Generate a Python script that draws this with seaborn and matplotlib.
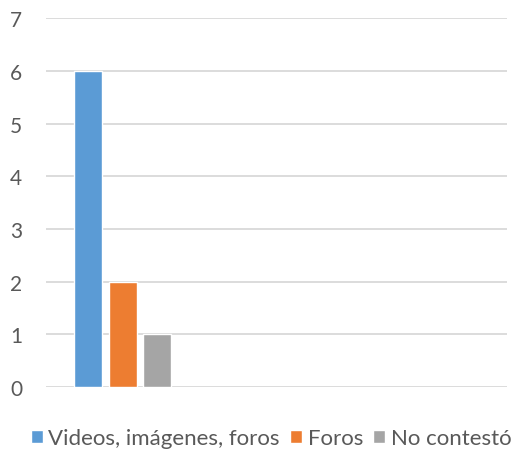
import matplotlib
matplotlib.use("Agg")
import matplotlib.pyplot as plt
import seaborn as sns
import pandas as pd

categories = ["Grupo"]
series = ["Videos, imágenes, foros", "Foros", "No contestó"]
values = [6, 2, 1]
colors = ["#5B9BD5", "#ED7D31", "#A5A5A5"]
yticks = [0, 1, 2, 3, 4, 5, 6, 7]

df = pd.DataFrame({"cat": categories * len(series), "serie": series, "valor": values})

sns.set_theme(style="white")
plt.rcParams['font.family'] = ['Lato', 'DejaVu Sans']

fig = plt.figure(figsize=(5.17, 4.56), dpi=100)
ax = fig.add_axes([0.089, 0.149, 0.892, 0.809])
sns.barplot(data=df, x="cat", y="valor", hue="serie", hue_order=series,
            palette=colors, width=0.673, gap=0.19, ax=ax, legend=True,
            saturation=1, errorbar=None)
ax.set_xlim(-0.5, 2.5)
ax.set_ylim(0, 7)
ax.set_yticks(yticks)
ax.set_yticklabels([str(t) for t in yticks])
ax.set_xticks([])
ax.set_xlabel("")
ax.set_ylabel("")
for s in ax.spines.values():
    s.set_visible(False)
ax.yaxis.grid(True, color="#D9D9D9", linewidth=1.3)
ax.set_axisbelow(True)
ax.tick_params(axis="y", length=0, pad=17, labelsize=15, labelcolor="#595959")
leg = ax.legend(loc="lower center", bbox_to_anchor=(0.488, -0.19), ncol=3,
                frameon=False, fontsize=16, handlelength=0.55, handleheight=0.55,
                handletextpad=0.25, columnspacing=0.45, borderaxespad=0)
for t in leg.get_texts():
    t.set_color("#595959")
fig.savefig("out.png", dpi=100)
